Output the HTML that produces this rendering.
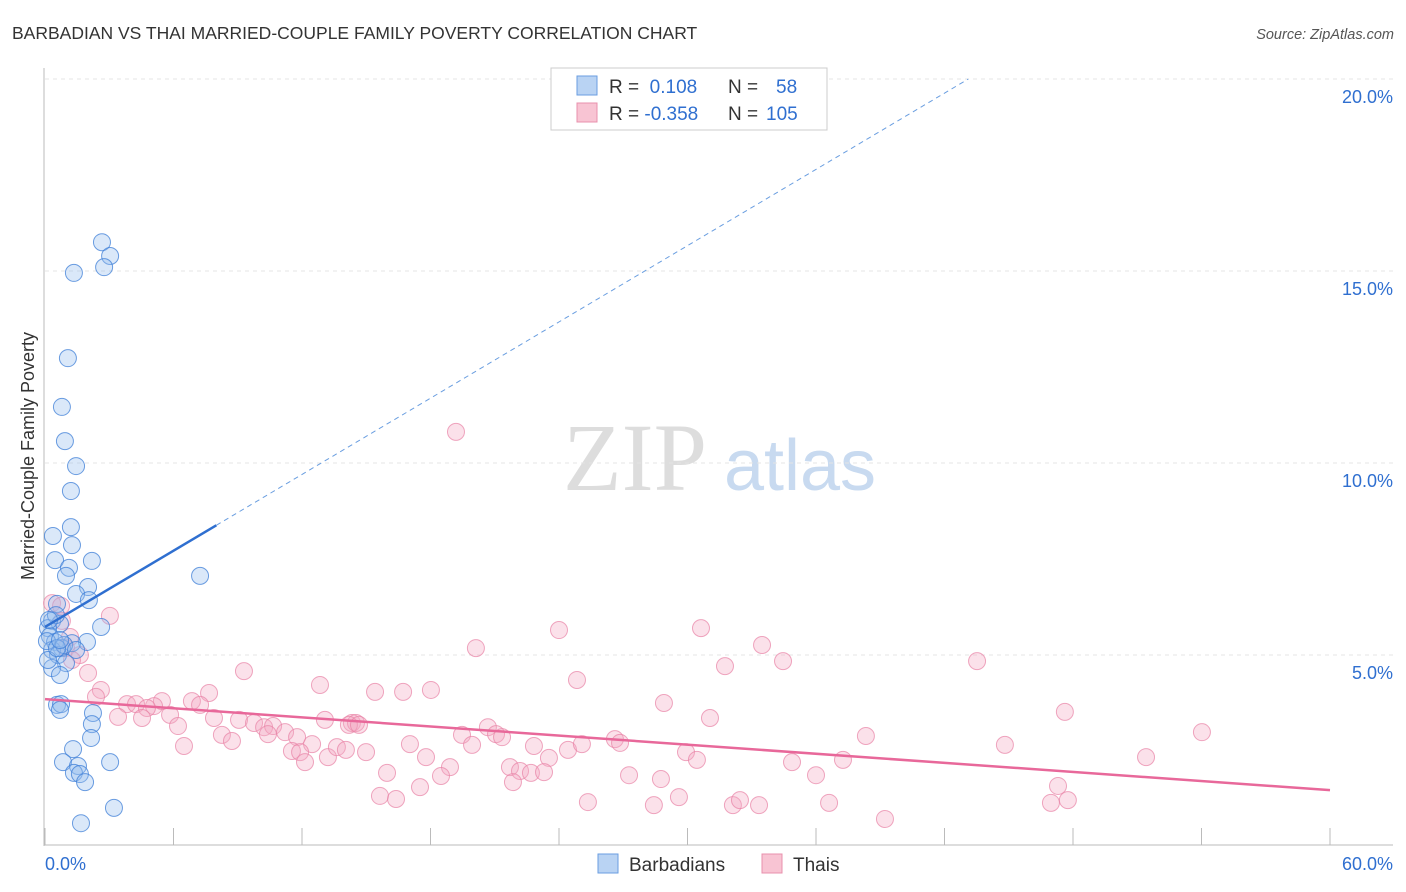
<!DOCTYPE html>
<html><head><meta charset="utf-8"><style>
body{margin:0;background:#fff;font-family:"Liberation Sans",sans-serif}
svg{display:block}
</style></head><body>
<svg id="chart" width="1406" height="892">
<text x="12" y="39" font-size="17.5" fill="#333">BARBADIAN VS THAI MARRIED-COUPLE FAMILY POVERTY CORRELATION CHART</text>
<text x="1394" y="39" font-size="14.5" fill="#555" font-style="italic" text-anchor="end">Source: ZipAtlas.com</text>
<g>
<text x="635" y="490" font-size="96" fill="#ddd" font-family="Liberation Serif,serif" text-anchor="middle">ZIP</text>
<text x="800" y="490" font-size="72" fill="#c8daf0" text-anchor="middle">atlas</text>
</g>
<g id="grid"></g>
<g id="axes"></g>
<g id="pts"></g>
<g id="lines"></g>
<text transform="translate(34,456) rotate(-90)" font-size="18" fill="#333" text-anchor="middle">Married-Couple Family Poverty</text>
<g>
<rect x="551" y="68" width="276" height="62" fill="#fff" stroke="#ccc"/>
<rect x="577" y="76" width="20" height="19" fill="#b9d3f3" stroke="#6a9ee0"/>
<rect x="577" y="103" width="20" height="19" fill="#f8c4d3" stroke="#e890ac"/>
<text x="609" y="93" font-size="19" fill="#333">R = <tspan fill="#2f6fd0">&#160;0.108</tspan>   <tspan x="728">N = </tspan><tspan x="776" fill="#2f6fd0">58</tspan></text>
<text x="609" y="120" font-size="19" fill="#333">R = <tspan fill="#2f6fd0">-0.358</tspan>   <tspan x="728">N = </tspan><tspan x="766" fill="#2f6fd0">105</tspan></text>
</g>
<g>
<rect x="598" y="854" width="20" height="19" fill="#b9d3f3" stroke="#6a9ee0"/>
<text x="629" y="871" font-size="19" fill="#333">Barbadians</text>
<rect x="762" y="854" width="20" height="19" fill="#f8c4d3" stroke="#e890ac"/>
<text x="793" y="871" font-size="19" fill="#333">Thais</text>
</g>
</svg>
<script>
const blueX=[2.66,3.04,1.35,2.76,1.07,0.79,0.93,1.45,1.21,1.21,0.37,1.26,0.47,2.19,1.12,0.98,2.01,1.45,0.56,2.05,0.33,0.70,0.14,0.23,2.62,0.47,1.96,1.26,0.79,0.33,0.61,0.98,0.33,0.70,7.24,0.56,0.75,0.70,2.24,2.19,2.15,1.31,0.84,3.04,1.54,1.35,1.63,1.87,3.22,1.68,0.09,0.14,0.89,0.51,0.19,0.56,1.45,0.70];
const blueY=[15.75,15.39,14.95,15.10,12.73,11.46,10.57,9.92,9.27,8.33,8.10,7.86,7.47,7.45,7.27,7.06,6.77,6.59,6.33,6.43,5.89,5.81,5.70,5.49,5.73,5.34,5.34,5.31,5.18,5.13,5.00,4.79,4.66,4.48,7.06,3.70,3.72,3.57,3.49,3.20,2.84,2.55,2.21,2.21,2.11,1.93,1.90,1.69,1.02,0.62,5.36,4.87,5.26,6.04,5.91,5.18,5.13,5.39];
const pinkX=[19.19,0.33,3.03,0.75,0.79,1.17,0.98,1.63,1.26,2.01,2.61,2.38,9.29,20.12,24.0,30.63,33.48,31.75,34.46,43.52,24.84,28.90,31.05,47.62,54.02,12.84,15.41,16.72,18.02,7.66,6.86,5.46,5.09,3.83,4.25,4.76,7.24,3.41,4.53,5.84,6.21,7.89,9.06,9.76,10.23,10.65,11.21,6.49,8.26,8.73,10.41,11.77,12.47,13.07,14.33,14.52,14.19,14.66,11.53,11.91,12.14,13.21,13.63,14.05,14.99,17.04,17.79,19.47,19.94,20.68,21.06,21.34,22.83,23.53,24.42,25.07,26.61,26.85,29.93,30.44,38.33,44.82,51.41,18.91,18.49,21.71,22.18,22.69,23.30,15.97,27.27,28.76,21.85,34.88,37.26,36.0,47.30,15.64,16.39,17.51,25.35,28.43,29.60,32.12,32.45,33.34,36.61,46.97,47.76,39.22];
const pinkY=[10.81,6.35,6.02,6.28,5.89,5.47,5.18,5.00,4.87,4.53,4.09,3.91,4.58,5.18,5.65,5.70,5.26,4.71,4.84,4.84,4.35,3.75,3.36,3.52,2.99,4.22,4.04,4.04,4.09,4.01,3.80,3.80,3.67,3.72,3.72,3.62,3.70,3.39,3.36,3.44,3.15,3.36,3.31,3.23,3.12,3.15,2.99,2.63,2.92,2.76,2.94,2.86,2.68,3.31,3.23,3.23,3.18,3.18,2.50,2.47,2.21,2.34,2.60,2.53,2.47,2.68,2.34,2.92,2.66,3.12,2.94,2.86,2.63,2.32,2.53,2.68,2.81,2.71,2.47,2.27,2.89,2.66,2.34,2.08,1.85,2.08,1.98,1.93,1.95,1.93,1.87,1.77,1.69,2.21,2.27,1.87,1.59,1.33,1.25,1.56,1.17,1.09,1.30,1.09,1.22,1.09,1.15,1.15,1.22,0.73];
const yTicks=[5,10,15,20];
const yTickLabels=["5.0%","10.0%","15.0%","20.0%"];
const xTicks=[0,6,12,18,24,30,36,42,48,54,60];
const blueFit=[5.73,0.331];
const pinkFit=[3.85,-0.0395];
const NS="http://www.w3.org/2000/svg";
const sx=v=>45+v/60*1285, sy=v=>847-v/5*192;
function mk(t,a,p){const e=document.createElementNS(NS,t);for(const k in a)e.setAttribute(k,a[k]);p.appendChild(e);return e;}
const grid=document.getElementById('grid'),axes=document.getElementById('axes'),pts=document.getElementById('pts'),lines=document.getElementById('lines');
yTicks.forEach((v,i)=>{
 const l=mk('line',{x1:45,x2:1393,y1:sy(v),y2:sy(v),stroke:'#e4e4e4','stroke-dasharray':'4,4'},grid);
 
 
 const t=mk('text',{x:1393,y:sy(v)+24,'font-size':18,fill:'#2f6fd0','text-anchor':'end'},axes);
 t.textContent=yTickLabels[i];
 
 
});
let a=mk('line',{x1:44,x2:44,y1:68,y2:846,stroke:'#bbb'},axes);


a=mk('line',{x1:44,x2:1393,y1:845,y2:845,stroke:'#bbb'},axes);


xTicks.forEach(v=>{
 const l=mk('line',{x1:sx(v),x2:sx(v),y1:828,y2:845,stroke:'#bbb'},axes);
 
 
});
let t=mk('text',{x:45,y:870,'font-size':18,fill:'#2f6fd0'},axes);t.textContent='0.0%';


t=mk('text',{x:1393,y:870,'font-size':18,fill:'#2f6fd0','text-anchor':'end'},axes);t.textContent='60.0%';


pinkX.forEach((x,i)=>{
 const c=mk('circle',{cx:sx(x),cy:sy(pinkY[i]),r:8.5,fill:'rgba(244,170,195,0.35)',stroke:'rgba(232,130,165,0.7)','stroke-width':1},pts);
 
 
});
blueX.forEach((x,i)=>{
 const c=mk('circle',{cx:sx(x),cy:sy(blueY[i]),r:8.5,fill:'rgba(150,188,238,0.35)',stroke:'rgba(60,125,215,0.75)','stroke-width':1},pts);
 
 
});
const bx2=(20-blueFit[0])/blueFit[1];
let L=mk('line',{x1:sx(0),y1:sy(blueFit[0]),x2:sx(8),y2:sy(blueFit[0]+blueFit[1]*8),stroke:'#2f6fd0','stroke-width':2.5},lines);


L=mk('line',{x1:sx(8),y1:sy(blueFit[0]+blueFit[1]*8),x2:sx(bx2),y2:sy(20),stroke:'#6a9ee0','stroke-width':1,'stroke-dasharray':'5,4'},lines);


L=mk('line',{x1:sx(0),y1:sy(pinkFit[0]),x2:sx(60),y2:sy(pinkFit[0]+pinkFit[1]*60),stroke:'#e8689a','stroke-width':2.5},lines);


</script>
</body></html>
